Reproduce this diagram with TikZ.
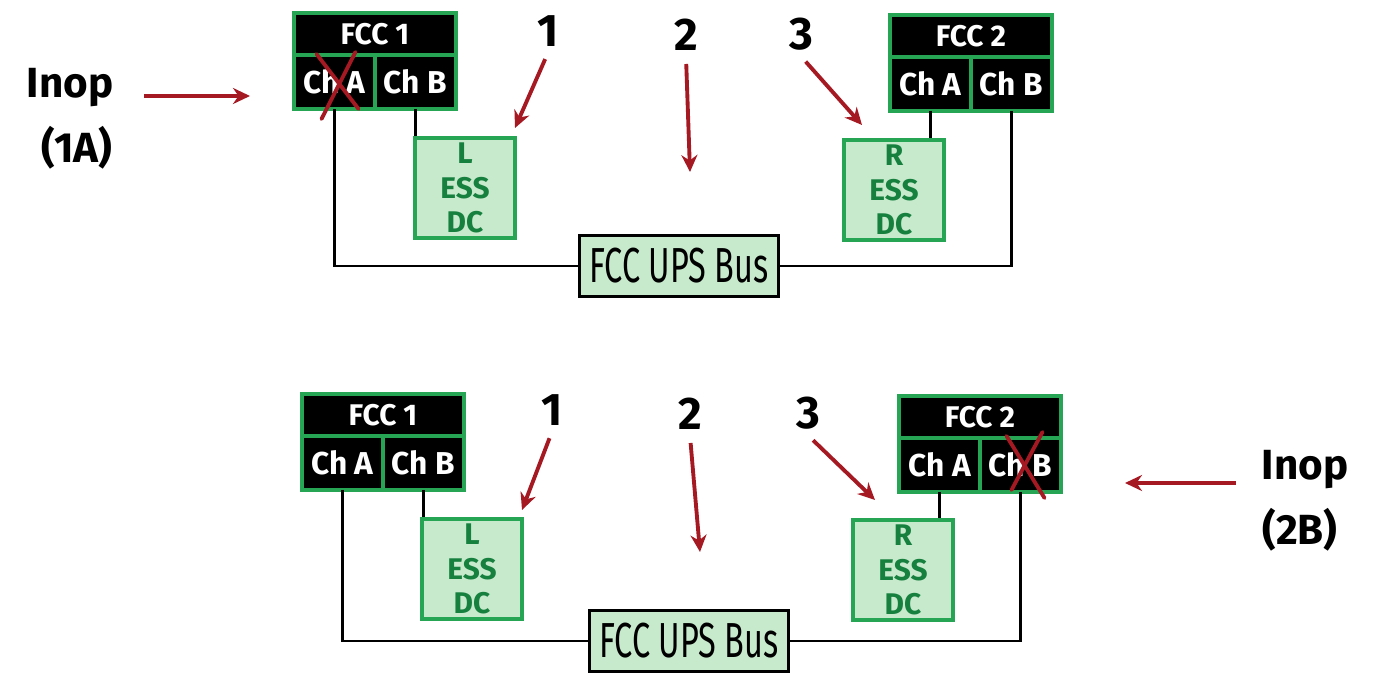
\documentclass[tikz,border=0pt]{standalone}
\usepackage{fontspec}
\usepackage{graphicx}
\setmainfont{Fira Sans}
\usetikzlibrary{arrows.meta,positioning,calc}
\definecolor{FCgreen}{RGB}{38,166,84}
\definecolor{FCmint}{RGB}{199,233,204}
\definecolor{FCdark}{RGB}{22,128,62}
\definecolor{FCred}{RGB}{165,25,35}
\tikzset{
  fcctitle/.style={draw=FCgreen,line width=2.3pt,fill=black,text=white,outer sep=0pt,inner sep=0pt,
                   minimum width=3.24cm,minimum height=0.84cm,font=\fontsize{17}{19}\selectfont\bfseries},
  fcccell/.style={draw=FCgreen,line width=2.3pt,fill=black,text=white,outer sep=0pt,inner sep=0pt,
                  minimum width=1.62cm,minimum height=1.08cm,font=\fontsize{18}{20}\selectfont\bfseries},
  ess/.style={draw=FCgreen,line width=2.1pt,fill=FCmint,text=FCdark,align=center,inner sep=0pt,
              minimum width=2.0cm,minimum height=2.0cm,font=\fontsize{17}{19.5}\selectfont\bfseries},
  bus/.style={draw=black,line width=1.7pt,fill=FCmint,inner sep=0pt,
              minimum width=3.98cm,minimum height=1.22cm,font=\fontsize{28}{30}\selectfont},
  wire/.style={line width=1.7pt,draw=black},
  redarr/.style={-{Stealth[length=3.4mm,width=3.2mm]},line width=2.2pt,draw=FCred},
  cross/.style={line width=2.2pt,draw=FCred,line cap=round},
  num/.style={font=\fontsize{26}{28}\selectfont\bfseries},
  hand/.style={font=\fontsize{24}{26}\selectfont\bfseries}
}

\begin{document}
\begin{tikzpicture}[x=0.02cm,y=-0.02cm]
  \useasboundingbox (0,0) rectangle (1388,675);

  % upper case: FCC 1 channel A inop
  \node[fcctitle] (t1) at (375,34) {FCC 1};
  \node[fcccell,anchor=north west] (f1a) at (t1.south west) {Ch A};
  \node[fcccell,anchor=north east] (f1b) at (t1.south east) {Ch B};
  \node[fcctitle] (t2) at (971,36) {FCC 2};
  \node[fcccell,anchor=north west] (f2a) at (t2.south west) {Ch A};
  \node[fcccell,anchor=north east] (f2b) at (t2.south east) {Ch B};
  \node[ess] (l1) at (465,188) {L\\ESS\\DC};
  \node[ess] (r1) at (894,190) {R\\ESS\\DC};
  \node[bus] (bus1) at (679,266) {\scalebox{0.66}[1]{FCC UPS Bus}};
  \draw[wire] (f1a.south) |- (bus1.west);
  \draw[wire] (bus1.east) -| (f2b.south);
  \draw[wire] (f1b.south) -- (f1b.south |- l1.north);
  \draw[wire] (f2a.south) -- (f2a.south |- r1.north);
  \draw[cross] ($(f1a.center)+(-13,37)$) -- ($(f1a.center)+(21,-30)$);
  \draw[cross] ($(f1a.center)+(-18,-28)$) -- ($(f1a.center)+(24,27)$);

  \node[num] (n1) at (548,31) {1};
  \node[num] (n2) at (686,35) {2};
  \node[num] (n3) at (801,34) {3};
  \coordinate (p1) at (515,128);
  \coordinate (p2) at (690,172);
  \coordinate (p3) at (862,125);
  \draw[redarr,shorten <=4pt] (n1.south) -- (p1);
  \draw[redarr,shorten <=4pt] (n2.south) -- (p2);
  \draw[redarr,shorten <=4pt] (n3.south) -- (p3);

  \node[hand] (inop1) at (70,88) {Inop};
  \node[hand] (code1) at (77,148) {(1A)};
  \coordinate (q1) at (250,96);
  \draw[redarr,shorten <=0.5cm] (inop1.east |- q1) -- (q1);

  % lower case: FCC 2 channel B inop
  \node[fcctitle] (t3) at (383,415) {FCC 1};
  \node[fcccell,anchor=north west] (f3a) at (t3.south west) {Ch A};
  \node[fcccell,anchor=north east] (f3b) at (t3.south east) {Ch B};
  \node[fcctitle] (t4) at (980,417) {FCC 2};
  \node[fcccell,anchor=north west] (f4a) at (t4.south west) {Ch A};
  \node[fcccell,anchor=north east] (f4b) at (t4.south east) {Ch B};
  \node[ess] (l2) at (472,569) {L\\ESS\\DC};
  \node[ess] (r2) at (903,570) {R\\ESS\\DC};
  \node[bus] (bus2) at (689,641) {\scalebox{0.66}[1]{FCC UPS Bus}};
  \draw[wire] (f3a.south) |- (bus2.west);
  \draw[wire] (bus2.east) -| (f4b.south);
  \draw[wire] (f3b.south) -- (f3b.south |- l2.north);
  \draw[wire] (f4a.south) -- (f4a.south |- r2.north);
  \draw[cross] ($(f4b.center)+(-14,-29)$) -- ($(f4b.center)+(24,33)$);
  \draw[cross] ($(f4b.center)+(22,-33)$) -- ($(f4b.center)+(-9,25)$);

  \node[num] (n4) at (552,410) {1};
  \node[num] (n5) at (690,414) {2};
  \node[num] (n6) at (808,413) {3};
  \coordinate (p4) at (522,510);
  \coordinate (p5) at (700,552);
  \coordinate (p6) at (875,500);
  \draw[redarr,shorten <=4pt] (n4.south) -- (p4);
  \draw[redarr,shorten <=4pt] (n5.south) -- (p5);
  \draw[redarr,shorten <=4pt] (n6.south) -- (p6);

  \node[hand] (inop2) at (1305,470) {Inop};
  \node[hand] (code2) at (1300,530) {(2B)};
  \coordinate (q2) at (1125,483);
  \draw[redarr,shorten <=0.4cm] (inop2.west |- q2) -- (q2);
\end{tikzpicture}
\end{document}
